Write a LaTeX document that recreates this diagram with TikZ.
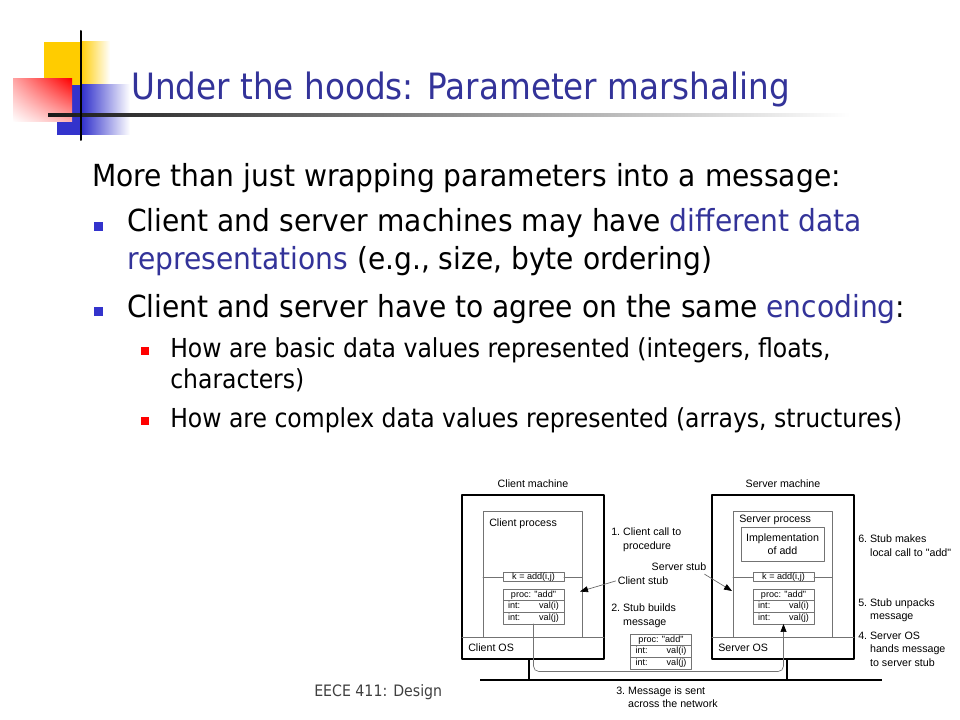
\documentclass[tikz,border=0pt]{standalone}
\usepackage{fontspec}
\setmainfont{DejaVu Sans}[FakeStretch=0.9]
\newfontfamily\bodyfont{DejaVu Sans}[FakeStretch=0.925]
\newfontfamily\diafont{Liberation Sans}
\usepackage{xcolor}
\usetikzlibrary{positioning,calc,arrows.meta,shadings}

\newcommand\labfont{\diafont\fontsize{8}{9.9}\selectfont}
\newcommand\cellfont{\diafont\fontsize{6.8}{8}\selectfont}
\newcommand\intval[1]{\makebox[38pt]{int:\hfill val(#1)}}

\begin{document}
\begin{tikzpicture}[x=0.75pt,y=-0.75pt,line cap=round,line join=round,
    mach/.style={draw=black,line width=1.1pt},
    grayline/.style={draw=black!55,line width=0.5pt},
    cell/.style={draw=black!55,line width=0.5pt,inner sep=0pt,outer sep=0pt,
      minimum width=45.75pt,minimum height=8.75pt,font=\cellfont},
    lbl/.style={font=\labfont,align=left,anchor=north west,inner sep=0pt},
    net/.style={draw=black,line width=1.6pt,line cap=butt},
    ptr/.style={draw=black!60,line width=0.5pt,-{Triangle[length=6pt,width=4.5pt,black]}},
    lineA/.style={anchor=base west,inner sep=0pt,font=\bodyfont\fontsize{22.8}{27}\selectfont},
    lineB/.style={anchor=base west,inner sep=0pt,font=\fontsize{19.6}{24}\selectfont}]
  \definecolor{ttlblue}{RGB}{51,51,153}
  \definecolor{bulblue}{RGB}{51,51,204}
  \definecolor{logoyel}{RGB}{255,204,0}

  % sizes
  \def\mw{142}  % machine width
  \def\mh{164}  % machine height

  \useasboundingbox (0,0) rectangle (960,720);
  \fill[white] (0,0) rectangle (960,720);

  % logo
  \fill[logoyel] (44,42) rectangle (80,85);
  \shade[left color=logoyel,right color=white] (80,42) rectangle (110,85);
  \fill[bulblue] (57,85) rectangle (82,135);
  \shade[left color=bulblue,right color=white] (82,85) rectangle (130,135);
  \shade[upper right=red,upper left=red!35!white,lower right=red!30!white,lower left=white]
    (13,79) rectangle (72,122);
  \shade[left color=black!90,right color=white] (48,114) rectangle (850,116.5);
  \draw[black,line width=1.5pt] (81,31) -- (81,140);

  % title
  \node[anchor=base west,inner sep=0pt,text=ttlblue,font=\fontsize{27.2}{33}\selectfont]
    (title) at (131,100) {Under the hoods: Parameter marshaling};

  % bullet text
  \node[lineA] (intro) at (92,187) {More than just wrapping parameters into a message:};
  \node[lineA] (pta) at (127,232) {Client and server machines may have \textcolor{ttlblue}{different data}};
  \node[lineA] (ptb) at (127,270) {\textcolor{ttlblue}{representations} (e.g., size, byte ordering)};
  \node[lineA] (ptc) at (127,317) {Client and server have to agree on the same \textcolor{ttlblue}{encoding}:};
  \node[lineB] (suba) at (170,357) {How are basic data values represented (integers, floats,};
  \node[lineB] (subb) at (170,388) {characters)};
  \node[lineB] (subc) at (170,427) {How are complex data values represented (arrays, structures)};

  \foreach \yy in {226.5,311.5}
    \fill[bulblue] (93.5,\yy-4.5) rectangle (102.5,\yy+4.5);
  \foreach \yy in {351,421}
    \fill[red] (141,\yy-4) rectangle (149,\yy+4);

  % footer
  \node[anchor=base west,inner sep=0pt,text=black!75,font=\fontsize{11.8}{13}\selectfont]
    (footer) at (314,696) {EECE 411: Design};

  % machines
  \foreach \who/\Who/\xx/\tx/\py in {c/Client/462/67/29, s/Server/712/75/25}{
    \begin{scope}[shift={(\xx,495)}]
      \draw[mach] (0,0) rectangle (\mw,\mh);
      \node[font=\labfont] (\who mlbl) at (71,-11) {\Who\ machine};
      \draw[grayline] (0,142) -- (\mw,142);
      \draw[grayline] (21,142) |- (120,16) -- (120,142);
      \node[lbl,anchor=west] (\who plbl) at (27,\py) {\Who\ process};
      \node[lbl,anchor=west] (\who oslbl) at (6,153) {\Who\ OS};
      \node[cell,minimum height=6pt] (\who call) at (71.5,82) {k = add(i,j)};
      \draw[grayline] (21,82) -- (\who call.west) (\who call.east) -- (120,82);
      \node[cell] (\who proc) at (71.5,99.8) {proc: "add"};
      \node[cell,below=0pt of \who proc] (\who vi) {\intval{i}};
      \node[cell,below=0pt of \who vi] (\who vj) {\intval{j}};
      \coordinate (\who tap) at (\tx,\mh);
    \end{scope}
  }

  % implementation of add (server only)
  \node[cell,minimum width=62.25pt,minimum height=25.5pt,font=\labfont,align=center]
    (impl) at (782.5,544) {Implementation\\of add};

  % message on the wire
  \node[cell] (mproc) at (661,639.8) {proc: "add"};
  \node[cell,below=0pt of mproc] (mvi) {\intval{i}};
  \node[cell,below=0pt of mvi] (mvj) {\intval{j}};

  % network
  \coordinate (netL) at (480,680);
  \coordinate (netR) at (882,680);
  \draw[net] (netL) -- (netR);
  \draw[net] (ctap) -- (ctap |- netL);
  \draw[net] (stap) -- (stap |- netL);

  % message path
  \coordinate (msgbot) at (600,671.5);
  \draw[grayline,rounded corners=4pt,-{Triangle[length=6pt,width=4.5pt,black]}]
    (cvj.south) |- (msgbot) -| (svj.south);

  % stub pointers
  \node[font=\labfont,inner sep=1.5pt] (cstublbl) at (643,581) {Client stub};
  \node[font=\labfont,inner sep=1.5pt] (sstublbl) at (679,567) {Server stub};
  \coordinate (cstubpt) at (580,591.5);
  \coordinate (sstubpt) at (732,591);
  \draw[ptr] (cstublbl.west) -- (cstubpt);
  \draw[ptr] ($(sstublbl.south east)+(-4,1)$) -- (sstubpt);

  % steps
  \node[lbl] (step1) at (611,528) {1.~Client call to\\\phantom{1.~}procedure};
  \node[lbl] (step2) at (611,604) {2.~Stub builds\\\phantom{2.~}message};
  \node[lbl] (step3) at (616,686) {3.~Message is sent\\\phantom{3.~}across the network};
  \node[lbl] (step4) at (858,632) {4.~Server OS\\\phantom{4.~}hands message\\\phantom{4.~}to server stub};
  \node[lbl] (step5) at (858,598) {5.~Stub unpacks\\\phantom{5.~}message};
  \node[lbl] (step6) at (858,535) {6.~Stub makes\\\phantom{6.~}local call to "add"};
\end{tikzpicture}
\end{document}
